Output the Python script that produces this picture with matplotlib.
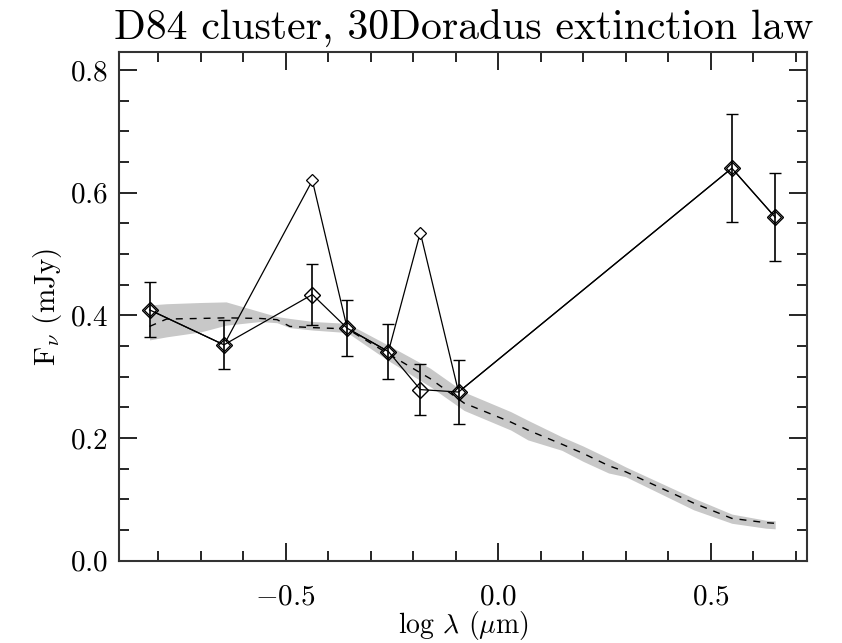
import numpy as np
import matplotlib
matplotlib.use('Agg')
import matplotlib.pyplot as plt
from matplotlib.ticker import MultipleLocator

plt.rcParams['font.family'] = 'cmr10'
plt.rcParams['mathtext.fontset'] = 'cm'
plt.rcParams['axes.formatter.use_mathtext'] = True

# photometry (log lambda in micron, flux in mJy)
logl = [-0.82, -0.645, -0.437, -0.355, -0.258, -0.183, -0.093, 0.55, 0.652]
flux = [0.409, 0.352, 0.434, 0.379, 0.341, 0.279, 0.275, 0.640, 0.560]
ferr = [0.045, 0.040, 0.050, 0.046, 0.045, 0.042, 0.052, 0.088, 0.072]
# same bands, emission-line filters not corrected
flux_raw = [0.409, 0.352, 0.620, 0.379, 0.341, 0.535, 0.275, 0.640, 0.560]

# model SED with its uncertainty band
mod_x = [-0.82, -0.78, -0.70, -0.64, -0.56, -0.52, -0.49, -0.435, -0.355, -0.26,
         -0.16, -0.08, 0.03, 0.07, 0.15, 0.20, 0.26, 0.30, 0.46, 0.55, 0.63, 0.652]
mod_y = [0.382, 0.394, 0.395, 0.396, 0.395, 0.393, 0.382, 0.380, 0.378, 0.338,
         0.297, 0.257, 0.226, 0.213, 0.190, 0.175, 0.155, 0.145, 0.094, 0.069, 0.062, 0.061]
mod_lo = [0.360, 0.365, 0.373, 0.384, 0.390, 0.388, 0.380, 0.376, 0.372, 0.327,
          0.284, 0.245, 0.213, 0.197, 0.180, 0.162, 0.143, 0.137, 0.083, 0.061, 0.053, 0.052]
mod_hi = [0.417, 0.419, 0.421, 0.422, 0.406, 0.398, 0.395, 0.390, 0.387, 0.352,
          0.314, 0.275, 0.243, 0.229, 0.202, 0.187, 0.167, 0.153, 0.102, 0.076, 0.066, 0.065]

fig = plt.figure(figsize=(8.42, 6.43), dpi=100)
ax = fig.add_axes([0.1413, 0.128, 0.8177, 0.7907])

ax.fill_between(mod_x, mod_lo, mod_hi, color='#c8c8c8', lw=0)
ax.plot(mod_x, mod_y, color='black', lw=1, ls=(0, (5, 5)))

ax.plot(logl, flux_raw, '-', color='black', lw=0.9, marker='D', ms=6,
        mfc='white', mec='black', mew=0.9)
ax.errorbar(logl, flux, yerr=ferr, fmt='-', color='black', lw=0.9, elinewidth=1.2,
            capsize=4, capthick=1.2, marker='D', ms=8, mfc='none', mec='black', mew=1.0)

ax.set_xlim(-0.892, 0.728)
ax.set_ylim(0.0, 0.829)
ax.xaxis.set_major_locator(MultipleLocator(0.5))
ax.xaxis.set_minor_locator(MultipleLocator(0.1))
ax.yaxis.set_major_locator(MultipleLocator(0.2))
ax.yaxis.set_minor_locator(MultipleLocator(0.05))
ax.tick_params(which='both', direction='in', top=True, right=True, labelsize=21, width=1.2)
ax.tick_params(which='major', length=13, pad=8)
ax.tick_params(axis='x', which='major', pad=17)
ax.tick_params(which='minor', length=7)
for s in ax.spines.values():
    s.set_linewidth(1.5)
    s.set_color('#333333')

ax.set_xlabel(r'log $\lambda$ ($\mu$m)', fontsize=20, labelpad=-1)
ax.set_ylabel(r'F$_\nu$ (mJy)', fontsize=21, labelpad=4)
ax.set_title('D84 cluster, 30Doradus extinction law', fontsize=30, pad=9)

fig.savefig('out.png', dpi=100)
